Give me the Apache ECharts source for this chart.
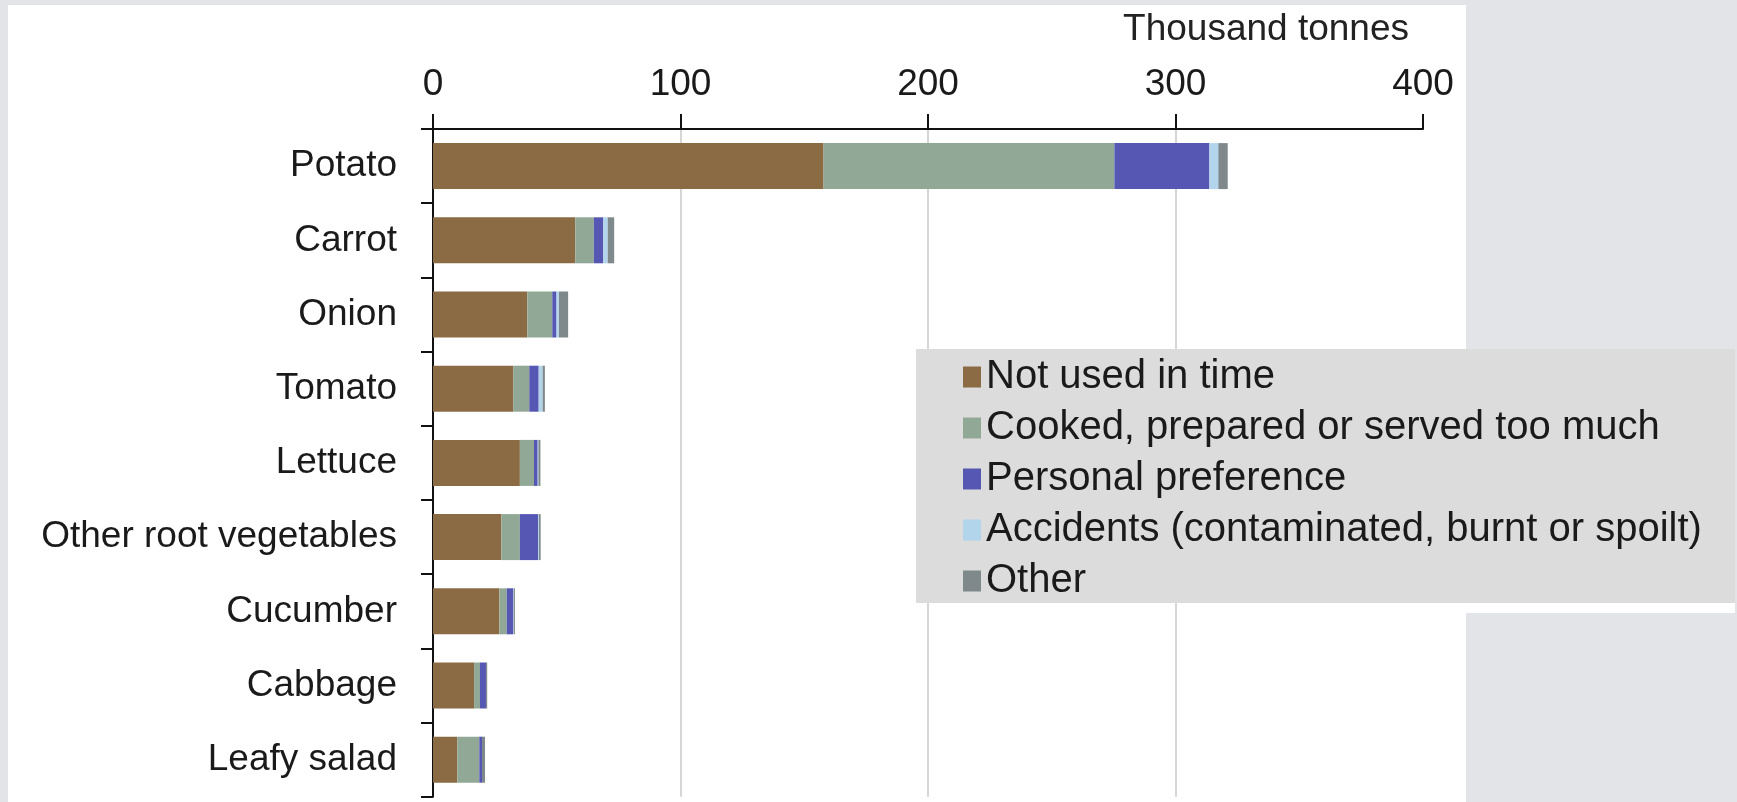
<!DOCTYPE html>
<html>
<head>
<meta charset="utf-8">
<title>Vegetable waste by reason</title>
<script src="https://cdn.jsdelivr.net/npm/echarts@6/dist/echarts.min.js"></script>
<style>
  html, body { margin: 0; padding: 0; background: #e3e4e8; overflow: hidden; }
  .panel { position: absolute; left: 8px; top: 5px; width: 1458px; height: 797px; background: #fff; }
  .legend-edge { position: absolute; left: 1466px; top: 603px; width: 269px; height: 10px; background: #fff; }
  #chart { position: absolute; left: 0; top: 0; width: 1737px; height: 802px; }
</style>
</head>
<body>
<div class="panel"></div>
<div class="legend-edge"></div>
<div id="chart"></div>
<script>
// thousand tonnes
const categories = ['Potato', 'Carrot', 'Onion', 'Tomato', 'Lettuce', 'Other root vegetables', 'Cucumber', 'Cabbage', 'Leafy salad']
const notUsedInTime = [157.8, 57.5, 38.1, 32.4, 35.1, 27.6, 26.8, 16.6, 9.8]
const cookedTooMuch = [117.5, 7.5, 10.1, 6.5, 5.7, 7.5, 3.0, 2.4, 8.9]
const personalPreference = [38.4, 3.8, 1.7, 3.8, 1.5, 7.4, 2.6, 2.4, 1.1]
const accidents = [3.6, 1.8, 1.0, 1.6, 0.3, 0.3, 0.2, 0, 0]
const other = [3.8, 2.6, 3.7, 0.9, 0.8, 0.7, 0.5, 0.5, 1.2]
const xTicks = [0, 100, 200, 300, 400]

const seriesDefs = [
  { name: 'Not used in time', data: notUsedInTime, color: '#8b6b44' },
  { name: 'Cooked, prepared or served too much', data: cookedTooMuch, color: '#92a896' },
  { name: 'Personal preference', data: personalPreference, color: '#5557b3' },
  { name: 'Accidents (contaminated, burnt or spoilt)', data: accidents, color: '#b3d5ec' },
  { name: 'Other', data: other, color: '#7f898b' }
]

const FONT = 'Liberation Sans, Arial, sans-serif'

const chart = echarts.init(document.getElementById('chart'))

const option = {
  animation: false,
  title: {
    text: 'Thousand tonnes',
    right: 323,
    top: 6,
    textStyle: { fontFamily: FONT, fontSize: 37, fontWeight: 'normal', color: '#222' }
  },
  graphic: [
    {
      type: 'rect',
      left: 916,
      top: 349,
      z: 3,
      shape: { width: 819, height: 254 },
      style: { fill: '#dcdcdc' }
    }
  ],
  legend: {
    orient: 'vertical',
    left: 959,
    top: 351,
    padding: [6, 4, 6, 4],
    itemGap: 11,
    itemWidth: 18,
    itemHeight: 21,
    icon: 'rect',
    z: 5,
    textStyle: { fontFamily: FONT, fontSize: 40, lineHeight: 40, color: '#1a1a1a' },
    data: seriesDefs.map(s => s.name)
  },
  grid: {
    left: 433,
    top: 129,
    width: 990,
    height: 667.8
  },
  xAxis: {
    type: 'value',
    position: 'top',
    min: xTicks[0],
    max: xTicks[xTicks.length - 1],
    interval: xTicks[1] - xTicks[0],
    axisLine: { show: true, lineStyle: { color: '#111', width: 2 } },
    axisTick: { show: true, length: 15, lineStyle: { color: '#111', width: 2 } },
    axisLabel: { margin: 26, fontFamily: FONT, fontSize: 37, color: '#1a1a1a' },
    splitLine: {
      show: true,
      showMinLine: false,
      showMaxLine: false,
      lineStyle: { color: '#c9c9c9', width: 1.5 }
    }
  },
  yAxis: {
    type: 'category',
    inverse: true,
    data: categories,
    axisLine: { show: true, lineStyle: { color: '#111', width: 2 } },
    axisTick: { show: true, length: 12, lineStyle: { color: '#111', width: 2 } },
    axisLabel: { margin: 36, fontFamily: FONT, fontSize: 37, color: '#1a1a1a' }
  },
  series: seriesDefs.map(s => ({
    name: s.name,
    type: 'bar',
    stack: 'total',
    barWidth: 46,
    itemStyle: { color: s.color },
    data: s.data
  }))
}

chart.setOption(option)

window.addEventListener('resize', () => {
  chart.resize()
})
</script>
</body>
</html>
